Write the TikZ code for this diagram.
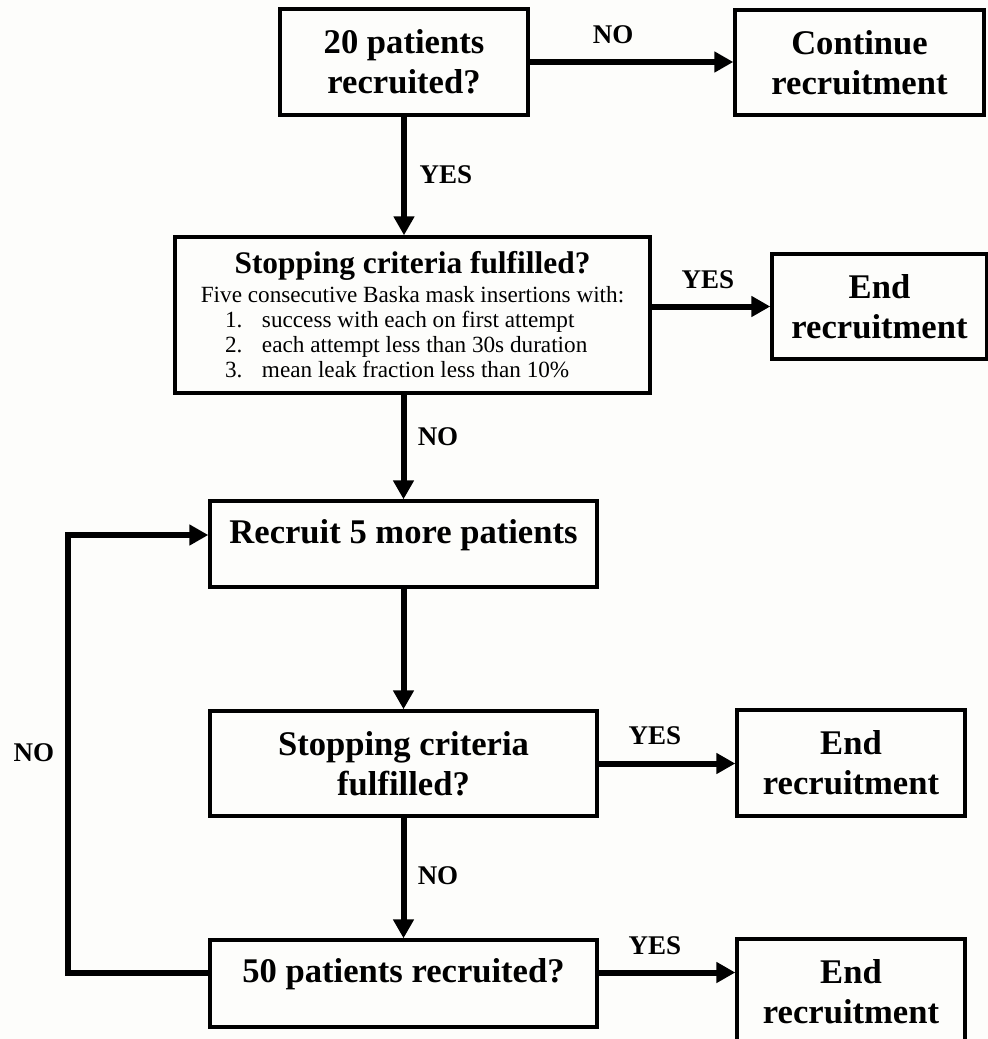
\documentclass[tikz,border=0pt]{standalone}
\usepackage{fontspec}
\setmainfont{Liberation Serif}
\usetikzlibrary{arrows.meta, positioning}
\definecolor{paper}{HTML}{FDFDFB}
\newcommand{\critline}[2]{\makebox[187.5pt][l]{\makebox[18.5pt][l]{#1}#2}}
\tikzset{
  >={Triangle[length=9.5pt,width=10pt]},
  x=0.5pt, y=-0.5pt,
  box/.style={draw, line width=1.7pt, fill=paper, align=center, inner sep=0pt,
    font=\bfseries\fontsize{17.3}{20}\selectfont},
  flow/.style={->, line width=3pt},
  lbl/.style={inner sep=0pt, font=\bfseries\fontsize{13.5}{15}\selectfont},
}

\begin{document}
\begin{tikzpicture}
  \fill[paper] (0,0) rectangle (988,1039);
  \useasboundingbox (0,0) rectangle (988,1039);

  % boxes
  \node[box, minimum width=124pt, minimum height=53pt] (n20) at (404,62) {20 patients\\recruited?};
  \node[box, minimum width=124.5pt, minimum height=52.5pt] (cont) at (859.5,62.5) {Continue\\recruitment};
  \node[box, minimum width=237.5pt, minimum height=78pt,
        font=\fontsize{11.6}{12.6}\selectfont] (stop1) at (412.5,315) {%
    {\bfseries\fontsize{15.7}{18}\selectfont Stopping criteria fulfilled?}\\[1.5pt]
    Five consecutive Baska mask insertions with:\\
    \critline{1.}{success with each on first attempt}\\
    \critline{2.}{each attempt less than 30s duration}\\
    \critline{3.}{mean leak fraction less than 10\%}};
  \node[box, minimum width=107.5pt, minimum height=52.5pt] (end1) at (879.5,306.5) {End\\recruitment};
  \node[box, minimum width=193.5pt, minimum height=43pt, text height=12pt, text depth=13pt] (more) at (403.5,544) {Recruit 5 more patients};
  \node[box, minimum width=193.5pt, minimum height=52.5pt] (stop2) at (403.5,763.5) {Stopping criteria\\fulfilled?};
  \node[box, minimum width=114pt, minimum height=53pt] (end2) at (851,763) {End\\recruitment};
  \node[box, minimum width=193.5pt, minimum height=43.5pt, text height=12pt, text depth=13pt] (n50) at (403.5,983.5) {50 patients recruited?};
  \node[box, minimum width=114pt, minimum height=53pt] (end3) at (851,992) {End\\recruitment};

  % labels
  \node[lbl] (no1) at (613,35) {NO};
  \node[lbl] (yes1) at (446,175) {YES};
  \node[lbl] (yes2) at (708,280) {YES};
  \node[lbl] (no2) at (438,437) {NO};
  \node[lbl] (yes3) at (655,736) {YES};
  \node[lbl] (no3) at (438,876) {NO};
  \node[lbl] (yes4) at (655,946) {YES};
  \node[lbl] (no4) at (34,753) {NO};

  % connectors
  \draw[flow] (n20.east) -- (n20.east -| cont.west);
  \draw[flow] (n20.south) -- (n20.south |- stop1.north);
  \draw[flow] (end1.west -| stop1.east) -- (end1.west);
  \draw[flow] (more.north |- stop1.south) -- (more.north);
  \draw[flow] (more.south) -- (stop2.north);
  \draw[flow] (stop2.east) -- (stop2.east -| end2.west);
  \draw[flow] (stop2.south) -- (n50.north);
  \draw[flow] ([yshift=5.5pt]n50.east) -- ([yshift=5.5pt]n50.east -| end3.west);
  \draw[flow] ([yshift=5.5pt]n50.west) -- ++(-140,0) |- ([yshift=4.5pt]more.west);
\end{tikzpicture}
\end{document}
